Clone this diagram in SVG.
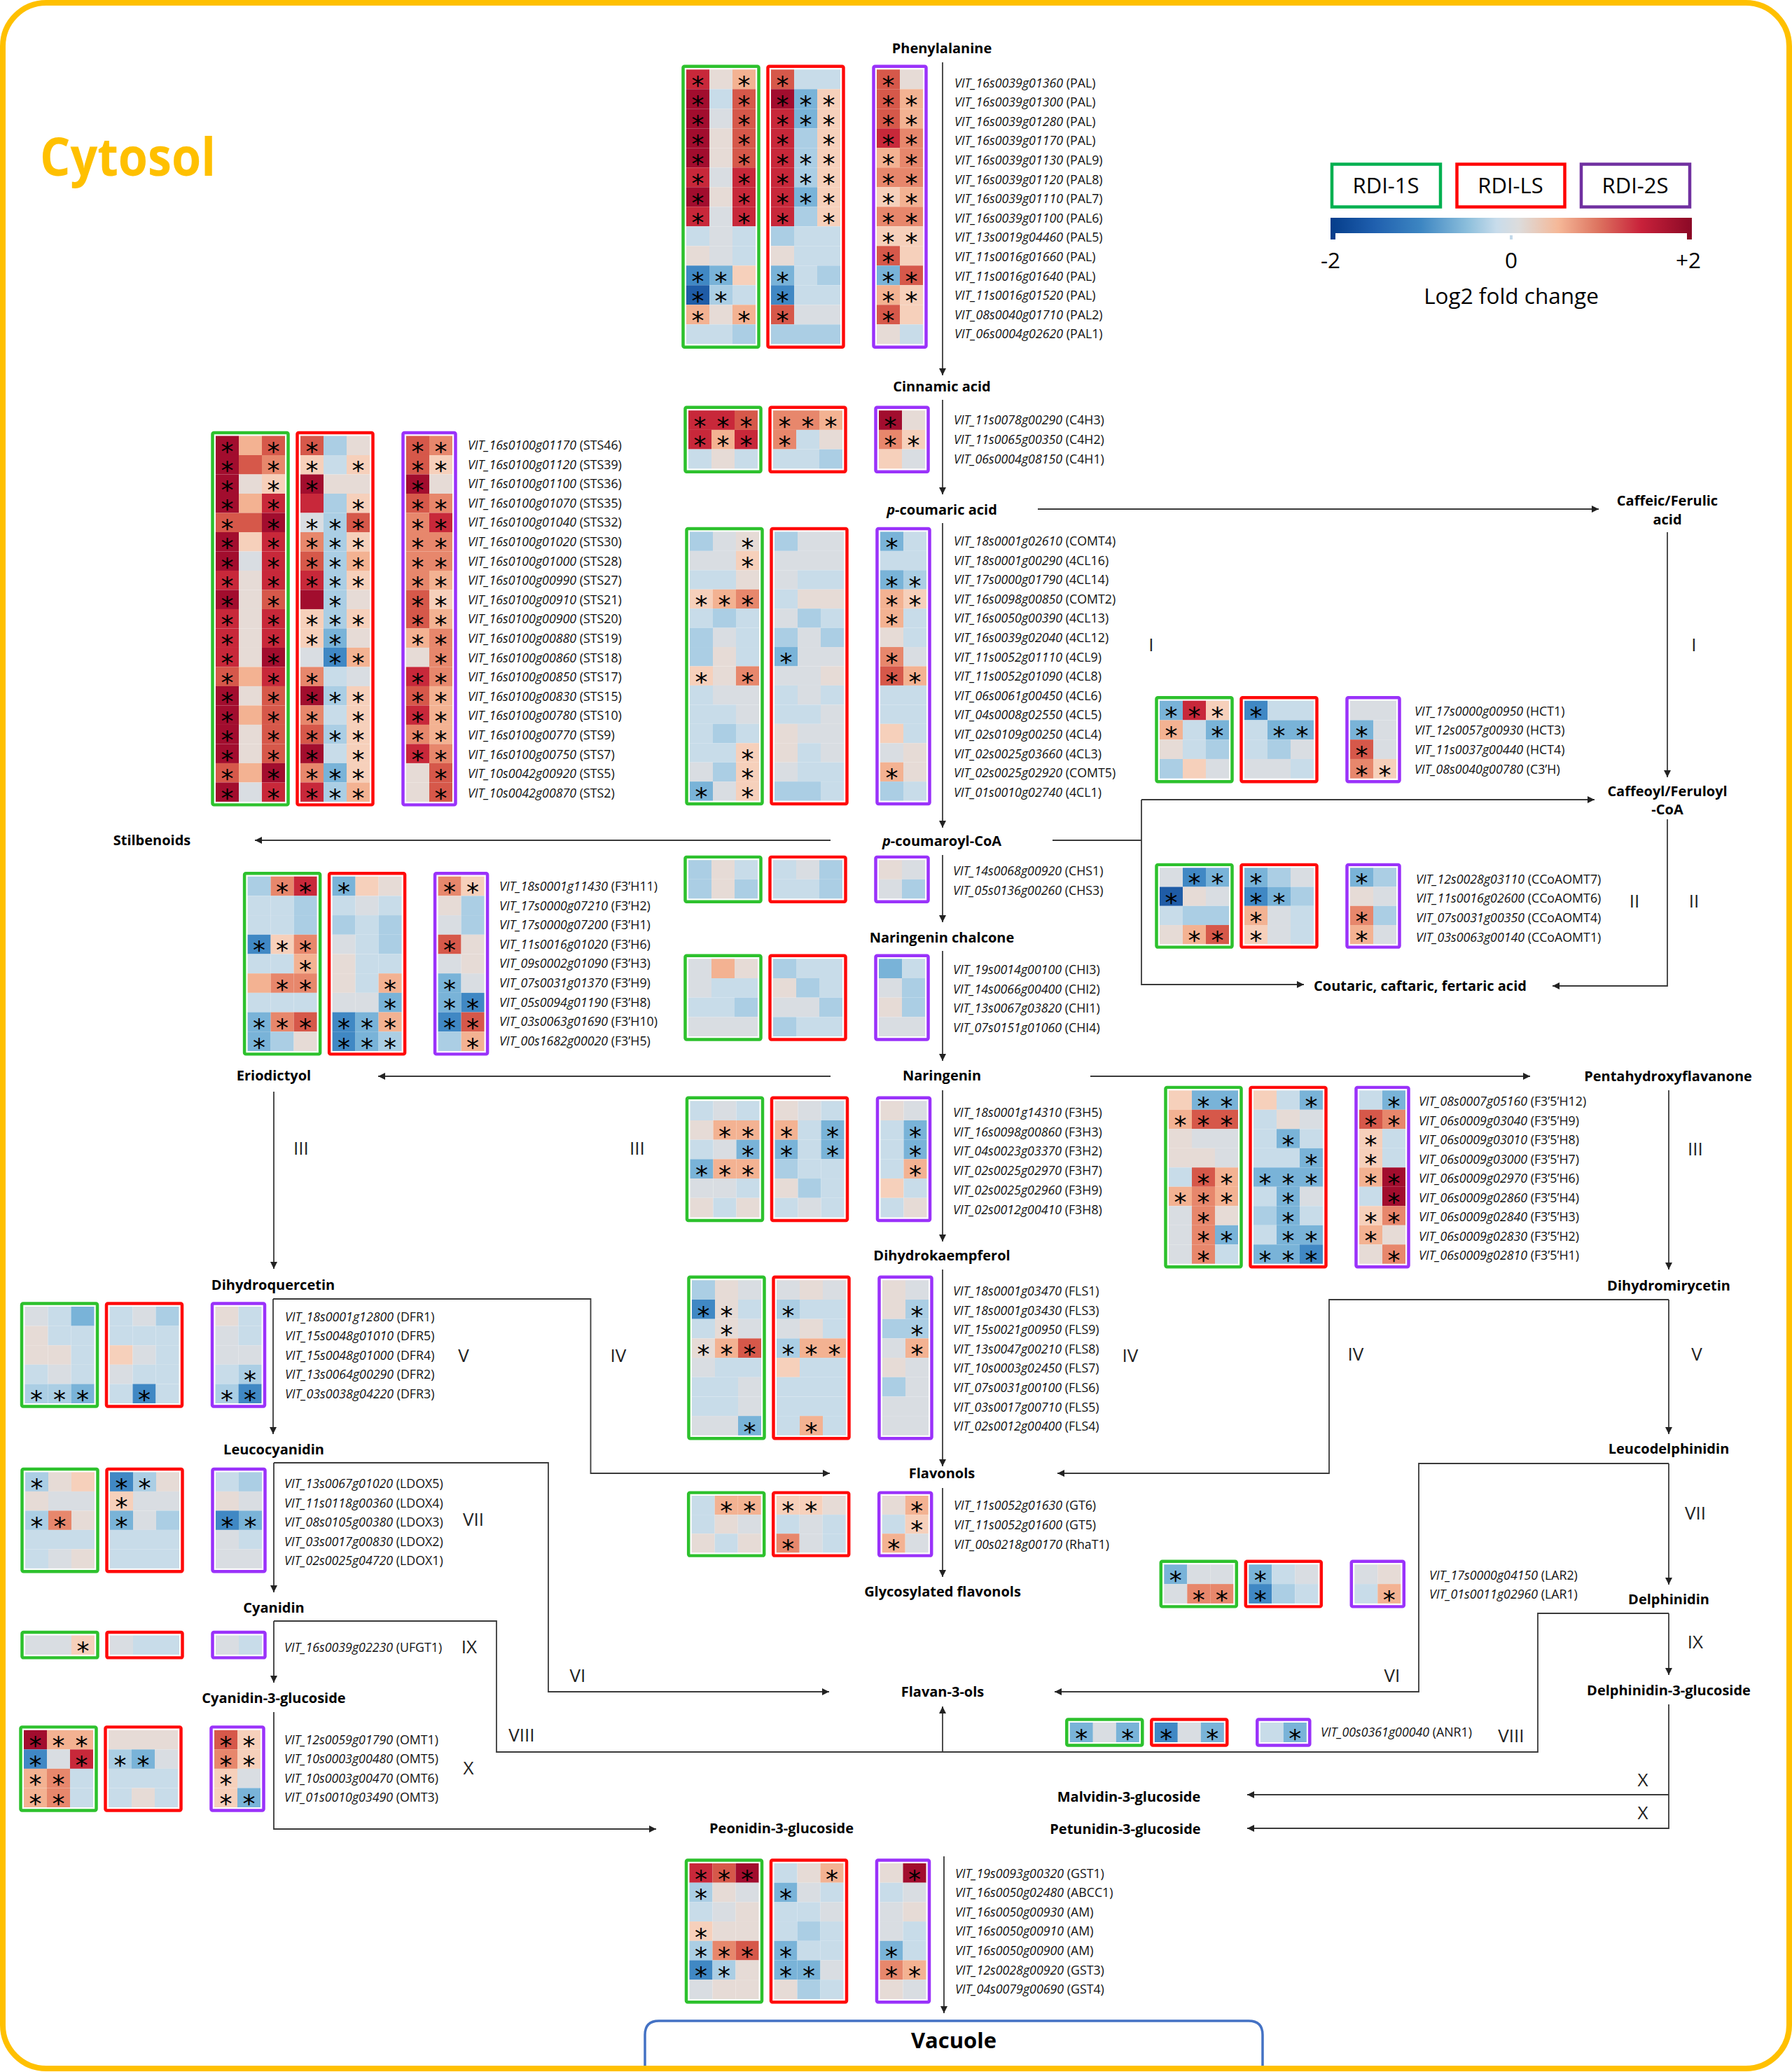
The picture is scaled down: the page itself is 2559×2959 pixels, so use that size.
<svg xmlns="http://www.w3.org/2000/svg" width="2559" height="2959" viewBox="0 0 2559 2959">
<defs>
<style>
.r4,.r3,.r2,.r1,.p2,.p1,.nn,.gg,.b0,.b1,.b2,.b3,.b4{width:33px;height:28px}
.r4{fill:#a20d2e}.r3{fill:#c8283a}.r2{fill:#d6584a}.r1{fill:#e7876c}.p2{fill:#f3b292}.p1{fill:#f6d0bb}.nn{fill:#e6dbd6}.gg{fill:#d9dde2}.b0{fill:#c8dce9}.b1{fill:#abcee4}.b2{fill:#79b3d8}.b3{fill:#4088c4}.b4{fill:#1f5ca6}
.gb,.rb,.pb{fill:none;stroke-width:4.5}
.gb{stroke:#2dc12d}.rb{stroke:#ff0a0a}.pb{stroke:#9a32fa}
.a{font-family:"DejaVu Sans",sans-serif;font-size:36px;text-anchor:middle;fill:#000}
.lb{font-family:"Open Sans",sans-serif;font-size:17.8px;font-style:italic;fill:#111}
.lb tspan{font-style:normal}
.cp{font-family:"Open Sans",sans-serif;font-size:20px;font-weight:bold;text-anchor:middle;fill:#000}
.rn{font-family:"Open Sans",sans-serif;font-size:26px;text-anchor:middle;fill:#222}
.cn path{fill:none;stroke:#3a3a3a;stroke-width:1.8}
.cn .ar{marker-end:url(#ah)}
.lg{font-family:"Open Sans",sans-serif;font-size:31.5px;text-anchor:middle;fill:#000}
</style>
<marker id="ah" viewBox="0 0 10 10" refX="10" refY="5" markerWidth="10" markerHeight="10" markerUnits="userSpaceOnUse" orient="auto"><path d="M0,0L10,5L0,10z" fill="#222"/></marker>
<linearGradient id="cbg" x1="0" x2="1" y1="0" y2="0">
<stop offset="0" stop-color="#053d8a"/><stop offset="0.12" stop-color="#1f5fae"/><stop offset="0.25" stop-color="#3d86c2"/><stop offset="0.38" stop-color="#8dbfdc"/><stop offset="0.46" stop-color="#c8dceb"/><stop offset="0.52" stop-color="#dcdcdc"/><stop offset="0.63" stop-color="#f5b898"/><stop offset="0.74" stop-color="#dd7460"/><stop offset="0.86" stop-color="#c8213a"/><stop offset="1" stop-color="#8b0926"/>
</linearGradient>
</defs>
<rect width="2559" height="2959" fill="#fff"/>
<g id="vacuole"><path d="M921 2950V2906Q921 2886 941 2886H1783Q1803 2886 1803 2906V2950" fill="none" stroke="#4472c4" stroke-width="3.5"/><text class="cp" x="1362" y="2925" style="font-size:31px">Vacuole</text></g>
<rect id="cytosol-border" x="4" y="4" width="2551" height="2950" rx="62" fill="none" stroke="#ffc000" stroke-width="8"/>
<text id="cytosol" x="57" y="251" textLength="251" lengthAdjust="spacingAndGlyphs" style="font-family:'Open Sans',sans-serif;font-weight:bold;font-size:76px;fill:#ffc000">Cytosol</text>

<g id="legend">
<rect x="1902" y="234.5" width="155" height="61" fill="none" stroke="#00b050" stroke-width="4.5"/>
<rect x="2080.5" y="234.5" width="154" height="61" fill="none" stroke="#ff0000" stroke-width="4.5"/>
<rect x="2258" y="234.5" width="155" height="61" fill="none" stroke="#7030a0" stroke-width="4.5"/>
<text class="lg" x="1979" y="276" style="font-size:31px">RDI-1S</text>
<text class="lg" x="2157" y="276" style="font-size:31px">RDI-LS</text>
<text class="lg" x="2335" y="276" style="font-size:31px">RDI-2S</text>
<rect x="1900" y="311" width="516" height="22" fill="url(#cbg)"/>
<rect x="1900" y="332" width="7" height="10" fill="#0a3f8c"/><rect x="2156" y="336" width="4" height="6" fill="#c3d9ea"/><rect x="2409" y="332" width="7" height="10" fill="#8b0926"/>
<text class="lg" x="1900" y="383">-2</text><text class="lg" x="2158" y="383">0</text><text class="lg" x="2411" y="383">+2</text>
<text class="lg" x="2158" y="434">Log2 fold change</text>
</g>

<g id="connectors" class="cn">
<path class="ar" d="M1346 89V536"/>
<path class="ar" d="M1346 571V706"/>
<path class="ar" d="M1346 747V1182"/>
<path class="ar" d="M1346 1221V1317"/>
<path class="ar" d="M1346 1358V1515"/>
<path class="ar" d="M1346 1557V1773"/>
<path class="ar" d="M1346 1813V2094"/>
<path class="ar" d="M1346 2125V2252"/>
<path class="ar" d="M1346 2502V2437"/>
<path class="ar" d="M1348 2651V2875"/>
<path class="ar" d="M1482 727H2283"/>
<path class="ar" d="M2381 760V1110"/>
<path class="ar" d="M1186 1200H364"/>
<path d="M1503 1200H1630"/>
<path class="ar" d="M1630 1142H2277"/>
<path class="ar" d="M1630 1142V1406H1862"/>
<path class="ar" d="M2381 1170V1408H2217"/>
<path class="ar" d="M1186 1537H540"/>
<path class="ar" d="M1557 1537H2185"/>
<path class="ar" d="M391 1559V1812"/>
<path class="ar" d="M2383 1557V1813"/>
<path class="ar" d="M390 1855V2048"/>
<path class="ar" d="M390 1855H843.5V2104H1185"/>
<path class="ar" d="M2383 1856V2048"/>
<path class="ar" d="M2383 1856H1898V2104H1510"/>
<path class="ar" d="M391 2089V2274"/>
<path class="ar" d="M391 2089H783V2416H1184"/>
<path class="ar" d="M2383 2090V2263"/>
<path class="ar" d="M2383 2090H2026V2416H1506"/>
<path class="ar" d="M391 2315V2403"/>
<path d="M391 2315H709V2502H2196V2304H2383"/>
<path class="ar" d="M2383 2304V2392"/>
<path class="ar" d="M391 2445V2612H937"/>
<path class="ar" d="M2383 2434V2611H1781"/>
<path class="ar" d="M2383 2563H1781"/>
</g>

<g id="compounds">
<g id="c-phe"><text class="cp" x="1345" y="76">Phenylalanine</text></g>
<g id="c-cin"><text class="cp" x="1345" y="559">Cinnamic acid</text></g>
<g id="c-pcou"><text class="cp" x="1345" y="735"><tspan font-style="italic">p</tspan>-coumaric acid</text></g>
<g id="c-caf"><text class="cp" x="2381" y="722">Caffeic/Ferulic</text><text class="cp" x="2381" y="749">acid</text></g>
<g id="c-stil"><text class="cp" x="217" y="1207">Stilbenoids</text></g>
<g id="c-pcoa"><text class="cp" x="1345" y="1208"><tspan font-style="italic">p</tspan>-coumaroyl-CoA</text></g>
<g id="c-cafcoa"><text class="cp" x="2381" y="1137">Caffeoyl/Feruloyl</text><text class="cp" x="2381" y="1163">-CoA</text></g>
<g id="c-nchal"><text class="cp" x="1345" y="1346">Naringenin chalcone</text></g>
<g id="c-cout"><text class="cp" x="2028" y="1415">Coutaric, caftaric, fertaric acid</text></g>
<g id="c-erio"><text class="cp" x="391" y="1543">Eriodictyol</text></g>
<g id="c-nar"><text class="cp" x="1345" y="1543">Naringenin</text></g>
<g id="c-penta"><text class="cp" x="2382" y="1544">Pentahydroxyflavanone</text></g>
<g id="c-dhk"><text class="cp" x="1345" y="1800">Dihydrokaempferol</text></g>
<g id="c-dhq"><text class="cp" x="390" y="1842">Dihydroquercetin</text></g>
<g id="c-dhm"><text class="cp" x="2383" y="1843">Dihydromirycetin</text></g>
<g id="c-lcy"><text class="cp" x="391" y="2077">Leucocyanidin</text></g>
<g id="c-fla"><text class="cp" x="1345" y="2111">Flavonols</text></g>
<g id="c-ldel"><text class="cp" x="2383" y="2076">Leucodelphinidin</text></g>
<g id="c-gfla"><text class="cp" x="1346" y="2280">Glycosylated flavonols</text></g>
<g id="c-cya"><text class="cp" x="391" y="2303">Cyanidin</text></g>
<g id="c-del"><text class="cp" x="2383" y="2291">Delphinidin</text></g>
<g id="c-c3g"><text class="cp" x="391" y="2432">Cyanidin-3-glucoside</text></g>
<g id="c-f3o"><text class="cp" x="1346" y="2423">Flavan-3-ols</text></g>
<g id="c-d3g"><text class="cp" x="2383" y="2421">Delphinidin-3-glucoside</text></g>
<g id="c-m3g"><text class="cp" x="1612" y="2573">Malvidin-3-glucoside</text></g>
<g id="c-p3g"><text class="cp" x="1116" y="2618">Peonidin-3-glucoside</text></g>
<g id="c-pt3g"><text class="cp" x="1607" y="2619">Petunidin-3-glucoside</text></g>
</g>

<g id="steps" class="rn">
<text x="1644" y="930">I</text><text x="2419" y="930">I</text>
<text x="2334" y="1296">II</text><text x="2419" y="1296">II</text>
<text x="430" y="1649">III</text><text x="910" y="1649">III</text><text x="2421" y="1650">III</text>
<text x="662" y="1945">V</text><text x="883" y="1945">IV</text><text x="1614" y="1945">IV</text><text x="1936" y="1943">IV</text><text x="2423" y="1943">V</text>
<text x="676" y="2179">VII</text><text x="2421" y="2170">VII</text>
<text x="670" y="2361">IX</text><text x="2421" y="2354">IX</text>
<text x="825" y="2402">VI</text><text x="1988" y="2402">VI</text>
<text x="745" y="2487">VIII</text><text x="2158" y="2488">VIII</text>
<text x="669" y="2534">X</text><text x="2346" y="2551">X</text><text x="2346" y="2598">X</text>
</g>

<g id="hm-pal">
<g transform="translate(980,99.3)">
<rect class="gb" x="-4.5" y="-4.5" width="108" height="401" rx="2"/><rect class="rb" x="116.5" y="-4.5" width="108" height="401" rx="2"/><rect class="pb" x="267.5" y="-4.5" width="75" height="401" rx="2"/>
<rect class="r3"/><rect class="nn" x="33"/><rect class="p2" x="66"/><rect class="r2" x="121"/><rect class="b0" x="154"/><rect class="b0" x="187"/><rect class="r2" x="272"/><rect class="nn" x="305"/>
<rect class="r4" y="28"/><rect class="b0" x="33" y="28"/><rect class="r2" x="66" y="28"/><rect class="r4" x="121" y="28"/><rect class="b2" x="154" y="28"/><rect class="p1" x="187" y="28"/><rect class="r2" x="272" y="28"/><rect class="p2" x="305" y="28"/>
<rect class="r4" y="56"/><rect class="gg" x="33" y="56"/><rect class="r2" x="66" y="56"/><rect class="r3" x="121" y="56"/><rect class="b2" x="154" y="56"/><rect class="p1" x="187" y="56"/><rect class="r2" x="272" y="56"/><rect class="p2" x="305" y="56"/>
<rect class="r4" y="84"/><rect class="nn" x="33" y="84"/><rect class="r2" x="66" y="84"/><rect class="r3" x="121" y="84"/><rect class="b1" x="154" y="84"/><rect class="p1" x="187" y="84"/><rect class="r3" x="272" y="84"/><rect class="r1" x="305" y="84"/>
<rect class="r4" y="112"/><rect class="nn" x="33" y="112"/><rect class="r2" x="66" y="112"/><rect class="r3" x="121" y="112"/><rect class="b1" x="154" y="112"/><rect class="p1" x="187" y="112"/><rect class="p2" x="272" y="112"/><rect class="r1" x="305" y="112"/>
<rect class="r3" y="140"/><rect class="gg" x="33" y="140"/><rect class="r3" x="66" y="140"/><rect class="r3" x="121" y="140"/><rect class="b1" x="154" y="140"/><rect class="p1" x="187" y="140"/><rect class="r1" x="272" y="140"/><rect class="r1" x="305" y="140"/>
<rect class="r4" y="168"/><rect class="nn" x="33" y="168"/><rect class="r3" x="66" y="168"/><rect class="r3" x="121" y="168"/><rect class="b2" x="154" y="168"/><rect class="p1" x="187" y="168"/><rect class="p1" x="272" y="168"/><rect class="p2" x="305" y="168"/>
<rect class="r3" y="196"/><rect class="gg" x="33" y="196"/><rect class="r3" x="66" y="196"/><rect class="r3" x="121" y="196"/><rect class="b1" x="154" y="196"/><rect class="p1" x="187" y="196"/><rect class="r1" x="272" y="196"/><rect class="r1" x="305" y="196"/>
<rect class="b0" y="224"/><rect class="gg" x="33" y="224"/><rect class="b0" x="66" y="224"/><rect class="b1" x="121" y="224"/><rect class="b0" x="154" y="224"/><rect class="b0" x="187" y="224"/><rect class="p1" x="272" y="224"/><rect class="p1" x="305" y="224"/>
<rect class="nn" y="252"/><rect class="gg" x="33" y="252"/><rect class="b0" x="66" y="252"/><rect class="nn" x="121" y="252"/><rect class="b0" x="154" y="252"/><rect class="b0" x="187" y="252"/><rect class="r2" x="272" y="252"/><rect class="p1" x="305" y="252"/>
<rect class="b3" y="280"/><rect class="b2" x="33" y="280"/><rect class="p1" x="66" y="280"/><rect class="b2" x="121" y="280"/><rect class="b0" x="154" y="280"/><rect class="b1" x="187" y="280"/><rect class="b2" x="272" y="280"/><rect class="r2" x="305" y="280"/>
<rect class="b4" y="308"/><rect class="b1" x="33" y="308"/><rect class="b0" x="66" y="308"/><rect class="b3" x="121" y="308"/><rect class="b0" x="154" y="308"/><rect class="b0" x="187" y="308"/><rect class="p2" x="272" y="308"/><rect class="p1" x="305" y="308"/>
<rect class="p2" y="336"/><rect class="nn" x="33" y="336"/><rect class="p2" x="66" y="336"/><rect class="r2" x="121" y="336"/><rect class="gg" x="154" y="336"/><rect class="gg" x="187" y="336"/><rect class="r2" x="272" y="336"/><rect class="p1" x="305" y="336"/>
<rect class="b0" y="364"/><rect class="b0" x="33" y="364"/><rect class="b1" x="66" y="364"/><rect class="b1" x="121" y="364"/><rect class="b1" x="154" y="364"/><rect class="b1" x="187" y="364"/><rect class="nn" x="272" y="364"/><rect class="b0" x="305" y="364"/>
<g class="a">
<text x="16.5 82.5 137.5 288.5" y="35">****</text>
<text x="16.5 82.5 137.5 170.5 203.5 288.5 321.5" y="63">*******</text>
<text x="16.5 82.5 137.5 170.5 203.5 288.5 321.5" y="91">*******</text>
<text x="16.5 82.5 137.5 203.5 288.5 321.5" y="119">******</text>
<text x="16.5 82.5 137.5 170.5 203.5 288.5 321.5" y="147">*******</text>
<text x="16.5 82.5 137.5 170.5 203.5 288.5 321.5" y="175">*******</text>
<text x="16.5 82.5 137.5 170.5 203.5 288.5 321.5" y="203">*******</text>
<text x="16.5 82.5 137.5 203.5 288.5 321.5" y="231">******</text>
<text x="288.5 321.5" y="259">**</text>
<text x="288.5" y="287">*</text>
<text x="16.5 49.5 137.5 288.5 321.5" y="315">*****</text>
<text x="16.5 49.5 137.5 288.5 321.5" y="343">*****</text>
<text x="16.5 82.5 137.5 288.5" y="371">****</text>
</g>
</g>
<g class="lb" transform="translate(1363,124.5)">
<text>VIT_16s0039g01360 <tspan>(PAL)</tspan></text>
<text y="27.6">VIT_16s0039g01300 <tspan>(PAL)</tspan></text>
<text y="55.2">VIT_16s0039g01280 <tspan>(PAL)</tspan></text>
<text y="82.8">VIT_16s0039g01170 <tspan>(PAL)</tspan></text>
<text y="110.4">VIT_16s0039g01130 <tspan>(PAL9)</tspan></text>
<text y="138">VIT_16s0039g01120 <tspan>(PAL8)</tspan></text>
<text y="165.6">VIT_16s0039g01110 <tspan>(PAL7)</tspan></text>
<text y="193.2">VIT_16s0039g01100 <tspan>(PAL6)</tspan></text>
<text y="220.8">VIT_13s0019g04460 <tspan>(PAL5)</tspan></text>
<text y="248.4">VIT_11s0016g01660 <tspan>(PAL)</tspan></text>
<text y="276">VIT_11s0016g01640 <tspan>(PAL)</tspan></text>
<text y="303.6">VIT_11s0016g01520 <tspan>(PAL)</tspan></text>
<text y="331.2">VIT_08s0040g01710 <tspan>(PAL2)</tspan></text>
<text y="358.8">VIT_06s0004g02620 <tspan>(PAL1)</tspan></text>
</g>
</g>

<g id="hm-sts">
<g transform="translate(308,622.5) scale(1,0.982)">
<rect class="gb" x="-4.5" y="-4.5" width="108" height="541" rx="2"/><rect class="rb" x="116.5" y="-4.5" width="108" height="541" rx="2"/><rect class="pb" x="267.5" y="-4.5" width="75" height="541" rx="2"/>
<rect class="r4"/><rect class="p2" x="33"/><rect class="r2" x="66"/><rect class="r2" x="121"/><rect class="b1" x="154"/><rect class="nn" x="187"/><rect class="r2" x="272"/><rect class="r1" x="305"/>
<rect class="r4" y="28"/><rect class="r2" x="33" y="28"/><rect class="r1" x="66" y="28"/><rect class="p1" x="121" y="28"/><rect class="b0" x="154" y="28"/><rect class="p1" x="187" y="28"/><rect class="r2" x="272" y="28"/><rect class="p1" x="305" y="28"/>
<rect class="r4" y="56"/><rect class="nn" x="33" y="56"/><rect class="p1" x="66" y="56"/><rect class="r4" x="121" y="56"/><rect class="nn" x="154" y="56"/><rect class="nn" x="187" y="56"/><rect class="r4" x="272" y="56"/><rect class="nn" x="305" y="56"/>
<rect class="r4" y="84"/><rect class="p2" x="33" y="84"/><rect class="r3" x="66" y="84"/><rect class="r3" x="121" y="84"/><rect class="b1" x="154" y="84"/><rect class="p1" x="187" y="84"/><rect class="r2" x="272" y="84"/><rect class="r1" x="305" y="84"/>
<rect class="r2" y="112"/><rect class="r2" x="33" y="112"/><rect class="r4" x="66" y="112"/><rect class="gg" x="121" y="112"/><rect class="b1" x="154" y="112"/><rect class="r2" x="187" y="112"/><rect class="r1" x="272" y="112"/><rect class="r3" x="305" y="112"/>
<rect class="r4" y="140"/><rect class="p1" x="33" y="140"/><rect class="r3" x="66" y="140"/><rect class="r1" x="121" y="140"/><rect class="b1" x="154" y="140"/><rect class="p1" x="187" y="140"/><rect class="r1" x="272" y="140"/><rect class="r1" x="305" y="140"/>
<rect class="r4" y="168"/><rect class="gg" x="33" y="168"/><rect class="r3" x="66" y="168"/><rect class="r2" x="121" y="168"/><rect class="b1" x="154" y="168"/><rect class="p2" x="187" y="168"/><rect class="r1" x="272" y="168"/><rect class="r1" x="305" y="168"/>
<rect class="r3" y="196"/><rect class="nn" x="33" y="196"/><rect class="r3" x="66" y="196"/><rect class="r3" x="121" y="196"/><rect class="b1" x="154" y="196"/><rect class="p1" x="187" y="196"/><rect class="r1" x="272" y="196"/><rect class="p2" x="305" y="196"/>
<rect class="r4" y="224"/><rect class="nn" x="33" y="224"/><rect class="r2" x="66" y="224"/><rect class="r4" x="121" y="224"/><rect class="b1" x="154" y="224"/><rect class="nn" x="187" y="224"/><rect class="r2" x="272" y="224"/><rect class="p1" x="305" y="224"/>
<rect class="r3" y="252"/><rect class="nn" x="33" y="252"/><rect class="r3" x="66" y="252"/><rect class="p1" x="121" y="252"/><rect class="b1" x="154" y="252"/><rect class="p1" x="187" y="252"/><rect class="r2" x="272" y="252"/><rect class="p2" x="305" y="252"/>
<rect class="r3" y="280"/><rect class="nn" x="33" y="280"/><rect class="r3" x="66" y="280"/><rect class="p1" x="121" y="280"/><rect class="b2" x="154" y="280"/><rect class="nn" x="187" y="280"/><rect class="p2" x="272" y="280"/><rect class="r1" x="305" y="280"/>
<rect class="r3" y="308"/><rect class="nn" x="33" y="308"/><rect class="r4" x="66" y="308"/><rect class="gg" x="121" y="308"/><rect class="b3" x="154" y="308"/><rect class="p2" x="187" y="308"/><rect class="nn" x="272" y="308"/><rect class="r1" x="305" y="308"/>
<rect class="r2" y="336"/><rect class="p2" x="33" y="336"/><rect class="r3" x="66" y="336"/><rect class="r1" x="121" y="336"/><rect class="b0" x="154" y="336"/><rect class="gg" x="187" y="336"/><rect class="r3" x="272" y="336"/><rect class="r1" x="305" y="336"/>
<rect class="r4" y="364"/><rect class="nn" x="33" y="364"/><rect class="r2" x="66" y="364"/><rect class="r4" x="121" y="364"/><rect class="b1" x="154" y="364"/><rect class="p1" x="187" y="364"/><rect class="r2" x="272" y="364"/><rect class="p2" x="305" y="364"/>
<rect class="r4" y="392"/><rect class="p2" x="33" y="392"/><rect class="r2" x="66" y="392"/><rect class="r1" x="121" y="392"/><rect class="b0" x="154" y="392"/><rect class="p1" x="187" y="392"/><rect class="r3" x="272" y="392"/><rect class="p2" x="305" y="392"/>
<rect class="r4" y="420"/><rect class="nn" x="33" y="420"/><rect class="r2" x="66" y="420"/><rect class="r2" x="121" y="420"/><rect class="b1" x="154" y="420"/><rect class="p1" x="187" y="420"/><rect class="r1" x="272" y="420"/><rect class="p2" x="305" y="420"/>
<rect class="r4" y="448"/><rect class="nn" x="33" y="448"/><rect class="r2" x="66" y="448"/><rect class="r4" x="121" y="448"/><rect class="b0" x="154" y="448"/><rect class="p1" x="187" y="448"/><rect class="r3" x="272" y="448"/><rect class="r1" x="305" y="448"/>
<rect class="r2" y="476"/><rect class="p2" x="33" y="476"/><rect class="r4" x="66" y="476"/><rect class="r1" x="121" y="476"/><rect class="b2" x="154" y="476"/><rect class="p1" x="187" y="476"/><rect class="nn" x="272" y="476"/><rect class="r2" x="305" y="476"/>
<rect class="r4" y="504"/><rect class="gg" x="33" y="504"/><rect class="r3" x="66" y="504"/><rect class="r3" x="121" y="504"/><rect class="b1" x="154" y="504"/><rect class="p2" x="187" y="504"/><rect class="nn" x="272" y="504"/><rect class="r2" x="305" y="504"/>
<g class="a">
<text x="16.5 82.5 137.5 288.5 321.5" y="35">*****</text>
<text x="16.5 82.5 137.5 203.5 288.5 321.5" y="63">******</text>
<text x="16.5 82.5 137.5 288.5" y="91">****</text>
<text x="16.5 82.5 203.5 288.5 321.5" y="119">*****</text>
<text x="16.5 82.5 137.5 170.5 203.5 288.5 321.5" y="147">*******</text>
<text x="16.5 82.5 137.5 170.5 203.5 288.5 321.5" y="175">*******</text>
<text x="16.5 82.5 137.5 170.5 203.5 288.5 321.5" y="203">*******</text>
<text x="16.5 82.5 137.5 170.5 203.5 288.5 321.5" y="231">*******</text>
<text x="16.5 82.5 170.5 288.5 321.5" y="259">*****</text>
<text x="16.5 82.5 137.5 170.5 203.5 288.5 321.5" y="287">*******</text>
<text x="16.5 82.5 137.5 170.5 288.5 321.5" y="315">******</text>
<text x="16.5 82.5 170.5 203.5 321.5" y="343">*****</text>
<text x="16.5 82.5 137.5 288.5 321.5" y="371">*****</text>
<text x="16.5 82.5 137.5 170.5 203.5 288.5 321.5" y="399">*******</text>
<text x="16.5 82.5 137.5 203.5 288.5 321.5" y="427">******</text>
<text x="16.5 82.5 137.5 170.5 203.5 288.5 321.5" y="455">*******</text>
<text x="16.5 82.5 137.5 203.5 288.5 321.5" y="483">******</text>
<text x="16.5 82.5 137.5 170.5 203.5 321.5" y="511">******</text>
<text x="16.5 82.5 137.5 170.5 203.5 321.5" y="539">******</text>
</g>
</g>
<g class="lb" transform="translate(668,642)">
<text>VIT_16s0100g01170 <tspan>(STS46)</tspan></text>
<text y="27.6">VIT_16s0100g01120 <tspan>(STS39)</tspan></text>
<text y="55.2">VIT_16s0100g01100 <tspan>(STS36)</tspan></text>
<text y="82.8">VIT_16s0100g01070 <tspan>(STS35)</tspan></text>
<text y="110.4">VIT_16s0100g01040 <tspan>(STS32)</tspan></text>
<text y="138">VIT_16s0100g01020 <tspan>(STS30)</tspan></text>
<text y="165.6">VIT_16s0100g01000 <tspan>(STS28)</tspan></text>
<text y="193.2">VIT_16s0100g00990 <tspan>(STS27)</tspan></text>
<text y="220.8">VIT_16s0100g00910 <tspan>(STS21)</tspan></text>
<text y="248.4">VIT_16s0100g00900 <tspan>(STS20)</tspan></text>
<text y="276">VIT_16s0100g00880 <tspan>(STS19)</tspan></text>
<text y="303.6">VIT_16s0100g00860 <tspan>(STS18)</tspan></text>
<text y="331.2">VIT_16s0100g00850 <tspan>(STS17)</tspan></text>
<text y="358.8">VIT_16s0100g00830 <tspan>(STS15)</tspan></text>
<text y="386.4">VIT_16s0100g00780 <tspan>(STS10)</tspan></text>
<text y="414">VIT_16s0100g00770 <tspan>(STS9)</tspan></text>
<text y="441.6">VIT_16s0100g00750 <tspan>(STS7)</tspan></text>
<text y="469.2">VIT_10s0042g00920 <tspan>(STS5)</tspan></text>
<text y="496.8">VIT_10s0042g00870 <tspan>(STS2)</tspan></text>
</g>
</g>

<g id="hm-c4h">
<g transform="translate(983,586.2) scale(1,0.989)">
<rect class="gb" x="-4.5" y="-4.5" width="108" height="93" rx="2"/><rect class="rb" x="116.5" y="-4.5" width="108" height="93" rx="2"/><rect class="pb" x="267.5" y="-4.5" width="75" height="93" rx="2"/>
<rect class="r3"/><rect class="r3" x="33"/><rect class="r2" x="66"/><rect class="r1" x="121"/><rect class="r1" x="154"/><rect class="p2" x="187"/><rect class="r4" x="272"/><rect class="nn" x="305"/>
<rect class="r3" y="28"/><rect class="p2" x="33" y="28"/><rect class="r3" x="66" y="28"/><rect class="r1" x="121" y="28"/><rect class="b0" x="154" y="28"/><rect class="nn" x="187" y="28"/><rect class="r1" x="272" y="28"/><rect class="p1" x="305" y="28"/>
<rect class="b0" y="56"/><rect class="nn" x="33" y="56"/><rect class="b0" x="66" y="56"/><rect class="b0" x="121" y="56"/><rect class="b0" x="154" y="56"/><rect class="b1" x="187" y="56"/><rect class="p1" x="272" y="56"/><rect class="gg" x="305" y="56"/>
<g class="a">
<text x="16.5 49.5 82.5 137.5 170.5 203.5 288.5" y="35">*******</text>
<text x="16.5 49.5 82.5 137.5 288.5 321.5" y="63">******</text>
</g>
</g>
<g class="lb" transform="translate(1362,606)">
<text>VIT_11s0078g00290 <tspan>(C4H3)</tspan></text>
<text y="28">VIT_11s0065g00350 <tspan>(C4H2)</tspan></text>
<text y="56">VIT_06s0004g08150 <tspan>(C4H1)</tspan></text>
</g>
</g>

<g id="hm-comt">
<g transform="translate(985,759.4) scale(1,0.98)">
<rect class="gb" x="-4.5" y="-4.5" width="108" height="401" rx="2"/><rect class="rb" x="116.5" y="-4.5" width="108" height="401" rx="2"/><rect class="pb" x="267.5" y="-4.5" width="75" height="401" rx="2"/>
<rect class="b1"/><rect class="gg" x="33"/><rect class="nn" x="66"/><rect class="b1" x="121"/><rect class="gg" x="154"/><rect class="gg" x="187"/><rect class="b2" x="272"/><rect class="b0" x="305"/>
<rect class="gg" y="28"/><rect class="gg" x="33" y="28"/><rect class="p1" x="66" y="28"/><rect class="gg" x="121" y="28"/><rect class="gg" x="154" y="28"/><rect class="gg" x="187" y="28"/><rect class="b0" x="272" y="28"/><rect class="b0" x="305" y="28"/>
<rect class="b0" y="56"/><rect class="b0" x="33" y="56"/><rect class="nn" x="66" y="56"/><rect class="gg" x="121" y="56"/><rect class="b0" x="154" y="56"/><rect class="b0" x="187" y="56"/><rect class="b2" x="272" y="56"/><rect class="b1" x="305" y="56"/>
<rect class="p1" y="84"/><rect class="p2" x="33" y="84"/><rect class="r1" x="66" y="84"/><rect class="b0" x="121" y="84"/><rect class="nn" x="154" y="84"/><rect class="nn" x="187" y="84"/><rect class="p2" x="272" y="84"/><rect class="p1" x="305" y="84"/>
<rect class="b0" y="112"/><rect class="b1" x="33" y="112"/><rect class="b0" x="66" y="112"/><rect class="gg" x="121" y="112"/><rect class="b1" x="154" y="112"/><rect class="b0" x="187" y="112"/><rect class="p2" x="272" y="112"/><rect class="b0" x="305" y="112"/>
<rect class="b1" y="140"/><rect class="gg" x="33" y="140"/><rect class="b0" x="66" y="140"/><rect class="b1" x="121" y="140"/><rect class="gg" x="154" y="140"/><rect class="b1" x="187" y="140"/><rect class="nn" x="272" y="140"/><rect class="b0" x="305" y="140"/>
<rect class="b1" y="168"/><rect class="nn" x="33" y="168"/><rect class="b0" x="66" y="168"/><rect class="b2" x="121" y="168"/><rect class="gg" x="154" y="168"/><rect class="gg" x="187" y="168"/><rect class="r1" x="272" y="168"/><rect class="gg" x="305" y="168"/>
<rect class="p1" y="196"/><rect class="nn" x="33" y="196"/><rect class="r1" x="66" y="196"/><rect class="gg" x="121" y="196"/><rect class="gg" x="154" y="196"/><rect class="nn" x="187" y="196"/><rect class="r2" x="272" y="196"/><rect class="p2" x="305" y="196"/>
<rect class="b0" y="224"/><rect class="gg" x="33" y="224"/><rect class="gg" x="66" y="224"/><rect class="b0" x="121" y="224"/><rect class="gg" x="154" y="224"/><rect class="b0" x="187" y="224"/><rect class="b0" x="272" y="224"/><rect class="b0" x="305" y="224"/>
<rect class="b0" y="252"/><rect class="b0" x="33" y="252"/><rect class="gg" x="66" y="252"/><rect class="b0" x="121" y="252"/><rect class="b0" x="154" y="252"/><rect class="gg" x="187" y="252"/><rect class="b0" x="272" y="252"/><rect class="b0" x="305" y="252"/>
<rect class="b0" y="280"/><rect class="b1" x="33" y="280"/><rect class="b0" x="66" y="280"/><rect class="nn" x="121" y="280"/><rect class="gg" x="154" y="280"/><rect class="gg" x="187" y="280"/><rect class="p1" x="272" y="280"/><rect class="b0" x="305" y="280"/>
<rect class="b0" y="308"/><rect class="b0" x="33" y="308"/><rect class="p1" x="66" y="308"/><rect class="nn" x="121" y="308"/><rect class="b0" x="154" y="308"/><rect class="gg" x="187" y="308"/><rect class="gg" x="272" y="308"/><rect class="nn" x="305" y="308"/>
<rect class="gg" y="336"/><rect class="b1" x="33" y="336"/><rect class="p1" x="66" y="336"/><rect class="gg" x="121" y="336"/><rect class="b0" x="154" y="336"/><rect class="b0" x="187" y="336"/><rect class="p2" x="272" y="336"/><rect class="nn" x="305" y="336"/>
<rect class="b2" y="364"/><rect class="gg" x="33" y="364"/><rect class="p1" x="66" y="364"/><rect class="b1" x="121" y="364"/><rect class="b1" x="154" y="364"/><rect class="b0" x="187" y="364"/><rect class="b1" x="272" y="364"/><rect class="b0" x="305" y="364"/>
<g class="a">
<text x="82.5 288.5" y="35">**</text>
<text x="82.5" y="63">*</text>
<text x="288.5 321.5" y="91">**</text>
<text x="16.5 49.5 82.5 288.5 321.5" y="119">*****</text>
<text x="288.5" y="147">*</text>
<text x="137.5 288.5" y="203">**</text>
<text x="16.5 82.5 288.5 321.5" y="231">****</text>
<text x="82.5" y="343">*</text>
<text x="82.5 288.5" y="371">**</text>
<text x="16.5 82.5" y="399">**</text>
</g>
</g>
<g class="lb" transform="translate(1362,779)">
<text>VIT_18s0001g02610 <tspan>(COMT4)</tspan></text>
<text y="27.6">VIT_18s0001g00290 <tspan>(4CL16)</tspan></text>
<text y="55.2">VIT_17s0000g01790 <tspan>(4CL14)</tspan></text>
<text y="82.8">VIT_16s0098g00850 <tspan>(COMT2)</tspan></text>
<text y="110.4">VIT_16s0050g00390 <tspan>(4CL13)</tspan></text>
<text y="138">VIT_16s0039g02040 <tspan>(4CL12)</tspan></text>
<text y="165.6">VIT_11s0052g01110 <tspan>(4CL9)</tspan></text>
<text y="193.2">VIT_11s0052g01090 <tspan>(4CL8)</tspan></text>
<text y="220.8">VIT_06s0061g00450 <tspan>(4CL6)</tspan></text>
<text y="248.4">VIT_04s0008g02550 <tspan>(4CL5)</tspan></text>
<text y="276">VIT_02s0109g00250 <tspan>(4CL4)</tspan></text>
<text y="303.6">VIT_02s0025g03660 <tspan>(4CL3)</tspan></text>
<text y="331.2">VIT_02s0025g02920 <tspan>(COMT5)</tspan></text>
<text y="358.8">VIT_01s0010g02740 <tspan>(4CL1)</tspan></text>
</g>
</g>

<g id="hm-hct">
<g transform="translate(1656,1000.7) scale(1,0.991)">
<rect class="gb" x="-4.5" y="-4.5" width="108" height="121" rx="2"/><rect class="rb" x="116.5" y="-4.5" width="108" height="121" rx="2"/><rect class="pb" x="267.5" y="-4.5" width="75" height="121" rx="2"/>
<rect class="b2"/><rect class="r3" x="33"/><rect class="p1" x="66"/><rect class="b3" x="121"/><rect class="b0" x="154"/><rect class="b0" x="187"/><rect class="gg" x="272"/><rect class="gg" x="305"/>
<rect class="p2" y="28"/><rect class="b0" x="33" y="28"/><rect class="b2" x="66" y="28"/><rect class="b0" x="121" y="28"/><rect class="b2" x="154" y="28"/><rect class="b2" x="187" y="28"/><rect class="b2" x="272" y="28"/><rect class="gg" x="305" y="28"/>
<rect class="nn" y="56"/><rect class="b0" x="33" y="56"/><rect class="b1" x="66" y="56"/><rect class="b0" x="121" y="56"/><rect class="b1" x="154" y="56"/><rect class="gg" x="187" y="56"/><rect class="r2" x="272" y="56"/><rect class="gg" x="305" y="56"/>
<rect class="b1" y="84"/><rect class="p1" x="33" y="84"/><rect class="gg" x="66" y="84"/><rect class="gg" x="121" y="84"/><rect class="gg" x="154" y="84"/><rect class="b0" x="187" y="84"/><rect class="r1" x="272" y="84"/><rect class="p1" x="305" y="84"/>
<g class="a">
<text x="16.5 49.5 82.5 137.5" y="35">****</text>
<text x="16.5 82.5 170.5 203.5 288.5" y="63">*****</text>
<text x="288.5" y="91">*</text>
<text x="288.5 321.5" y="119">**</text>
</g>
</g>
<g class="lb" transform="translate(2020,1021.5)">
<text>VIT_17s0000g00950 <tspan>(HCT1)</tspan></text>
<text y="27.7">VIT_12s0057g00930 <tspan>(HCT3)</tspan></text>
<text y="55.4">VIT_11s0037g00440 <tspan>(HCT4)</tspan></text>
<text y="83.1">VIT_08s0040g00780 <tspan>(C3’H)</tspan></text>
</g>
</g>

<g id="hm-ccoaomt">
<g transform="translate(1656,1239.3) scale(1,0.973)">
<rect class="gb" x="-4.5" y="-4.5" width="108" height="121" rx="2"/><rect class="rb" x="116.5" y="-4.5" width="108" height="121" rx="2"/><rect class="pb" x="267.5" y="-4.5" width="75" height="121" rx="2"/>
<rect class="gg"/><rect class="b3" x="33"/><rect class="b2" x="66"/><rect class="b2" x="121"/><rect class="b1" x="154"/><rect class="gg" x="187"/><rect class="b2" x="272"/><rect class="b1" x="305"/>
<rect class="b4" y="28"/><rect class="nn" x="33" y="28"/><rect class="gg" x="66" y="28"/><rect class="b3" x="121" y="28"/><rect class="b2" x="154" y="28"/><rect class="b1" x="187" y="28"/><rect class="nn" x="272" y="28"/><rect class="gg" x="305" y="28"/>
<rect class="b0" y="56"/><rect class="b1" x="33" y="56"/><rect class="b1" x="66" y="56"/><rect class="p2" x="121" y="56"/><rect class="gg" x="154" y="56"/><rect class="b0" x="187" y="56"/><rect class="r1" x="272" y="56"/><rect class="b1" x="305" y="56"/>
<rect class="nn" y="84"/><rect class="p2" x="33" y="84"/><rect class="r2" x="66" y="84"/><rect class="p1" x="121" y="84"/><rect class="gg" x="154" y="84"/><rect class="b0" x="187" y="84"/><rect class="p2" x="272" y="84"/><rect class="gg" x="305" y="84"/>
<g class="a">
<text x="49.5 82.5 137.5 288.5" y="35">****</text>
<text x="16.5 137.5 170.5" y="63">***</text>
<text x="137.5 288.5" y="91">**</text>
<text x="49.5 82.5 137.5 288.5" y="119">****</text>
</g>
</g>
<g class="lb" transform="translate(2022,1261.5)">
<text>VIT_12s0028g03110 <tspan>(CCoAOMT7)</tspan></text>
<text y="27.7">VIT_11s0016g02600 <tspan>(CCoAOMT6)</tspan></text>
<text y="55.4">VIT_07s0031g00350 <tspan>(CCoAOMT4)</tspan></text>
<text y="83.1">VIT_03s0063g00140 <tspan>(CCoAOMT1)</tspan></text>
</g>
</g>

<g id="hm-f3h-prime">
<g transform="translate(353.6,1251.7) scale(1,0.989)">
<rect class="gb" x="-4.5" y="-4.5" width="108" height="261" rx="2"/><rect class="rb" x="116.5" y="-4.5" width="108" height="261" rx="2"/><rect class="pb" x="267.5" y="-4.5" width="75" height="261" rx="2"/>
<rect class="b1"/><rect class="r1" x="33"/><rect class="r3" x="66"/><rect class="b2" x="121"/><rect class="p1" x="154"/><rect class="nn" x="187"/><rect class="r1" x="272"/><rect class="p1" x="305"/>
<rect class="b0" y="28"/><rect class="b0" x="33" y="28"/><rect class="b1" x="66" y="28"/><rect class="b0" x="121" y="28"/><rect class="gg" x="154" y="28"/><rect class="b0" x="187" y="28"/><rect class="nn" x="272" y="28"/><rect class="b1" x="305" y="28"/>
<rect class="b0" y="56"/><rect class="b0" x="33" y="56"/><rect class="b1" x="66" y="56"/><rect class="b1" x="121" y="56"/><rect class="b0" x="154" y="56"/><rect class="b1" x="187" y="56"/><rect class="gg" x="272" y="56"/><rect class="b1" x="305" y="56"/>
<rect class="b3" y="84"/><rect class="p1" x="33" y="84"/><rect class="r1" x="66" y="84"/><rect class="gg" x="121" y="84"/><rect class="b0" x="154" y="84"/><rect class="b1" x="187" y="84"/><rect class="r2" x="272" y="84"/><rect class="nn" x="305" y="84"/>
<rect class="b0" y="112"/><rect class="b0" x="33" y="112"/><rect class="p2" x="66" y="112"/><rect class="nn" x="121" y="112"/><rect class="b0" x="154" y="112"/><rect class="b0" x="187" y="112"/><rect class="gg" x="272" y="112"/><rect class="nn" x="305" y="112"/>
<rect class="p2" y="140"/><rect class="r1" x="33" y="140"/><rect class="r1" x="66" y="140"/><rect class="nn" x="121" y="140"/><rect class="b0" x="154" y="140"/><rect class="p2" x="187" y="140"/><rect class="b2" x="272" y="140"/><rect class="gg" x="305" y="140"/>
<rect class="b0" y="168"/><rect class="b0" x="33" y="168"/><rect class="b0" x="66" y="168"/><rect class="gg" x="121" y="168"/><rect class="gg" x="154" y="168"/><rect class="b2" x="187" y="168"/><rect class="b2" x="272" y="168"/><rect class="b3" x="305" y="168"/>
<rect class="b2" y="196"/><rect class="r1" x="33" y="196"/><rect class="r2" x="66" y="196"/><rect class="b3" x="121" y="196"/><rect class="b2" x="154" y="196"/><rect class="p2" x="187" y="196"/><rect class="b3" x="272" y="196"/><rect class="r2" x="305" y="196"/>
<rect class="b2" y="224"/><rect class="b1" x="33" y="224"/><rect class="nn" x="66" y="224"/><rect class="b3" x="121" y="224"/><rect class="b2" x="154" y="224"/><rect class="b1" x="187" y="224"/><rect class="b1" x="272" y="224"/><rect class="p2" x="305" y="224"/>
<g class="a">
<text x="49.5 82.5 137.5 288.5 321.5" y="35">*****</text>
<text x="16.5 49.5 82.5 288.5" y="119">****</text>
<text x="82.5" y="147">*</text>
<text x="49.5 82.5 203.5 288.5" y="175">****</text>
<text x="203.5 288.5 321.5" y="203">***</text>
<text x="16.5 49.5 82.5 137.5 170.5 203.5 288.5 321.5" y="231">********</text>
<text x="16.5 137.5 170.5 203.5 321.5" y="259">*****</text>
</g>
</g>
<g class="lb" transform="translate(713,1272)">
<text>VIT_18s0001g11430 <tspan>(F3’H11)</tspan></text>
<text y="27.6">VIT_17s0000g07210 <tspan>(F3’H2)</tspan></text>
<text y="55.2">VIT_17s0000g07200 <tspan>(F3’H1)</tspan></text>
<text y="82.8">VIT_11s0016g01020 <tspan>(F3’H6)</tspan></text>
<text y="110.4">VIT_09s0002g01090 <tspan>(F3’H3)</tspan></text>
<text y="138">VIT_07s0031g01370 <tspan>(F3’H9)</tspan></text>
<text y="165.6">VIT_05s0094g01190 <tspan>(F3’H8)</tspan></text>
<text y="193.2">VIT_03s0063g01690 <tspan>(F3’H10)</tspan></text>
<text y="220.8">VIT_00s1682g00020 <tspan>(F3’H5)</tspan></text>
</g>
</g>

<g id="hm-chs">
<g transform="translate(983,1228.3) scale(1,0.982)">
<rect class="gb" x="-4.5" y="-4.5" width="108" height="65" rx="2"/><rect class="rb" x="116.5" y="-4.5" width="108" height="65" rx="2"/><rect class="pb" x="267.5" y="-4.5" width="75" height="65" rx="2"/>
<rect class="b1"/><rect class="nn" x="33"/><rect class="b0" x="66"/><rect class="b0" x="121"/><rect class="gg" x="154"/><rect class="b1" x="187"/><rect class="nn" x="272"/><rect class="gg" x="305"/>
<rect class="b1" y="28"/><rect class="nn" x="33" y="28"/><rect class="b1" x="66" y="28"/><rect class="b0" x="121" y="28"/><rect class="b0" x="154" y="28"/><rect class="b1" x="187" y="28"/><rect class="gg" x="272" y="28"/><rect class="b1" x="305" y="28"/>
</g>
<g class="lb" transform="translate(1361,1250)">
<text>VIT_14s0068g00920 <tspan>(CHS1)</tspan></text>
<text y="27.7">VIT_05s0136g00260 <tspan>(CHS3)</tspan></text>
</g>
</g>

<g id="hm-chi">
<g transform="translate(983,1369.3) scale(1,0.989)">
<rect class="gb" x="-4.5" y="-4.5" width="108" height="121" rx="2"/><rect class="rb" x="116.5" y="-4.5" width="108" height="121" rx="2"/><rect class="pb" x="267.5" y="-4.5" width="75" height="121" rx="2"/>
<rect class="gg"/><rect class="p2" x="33"/><rect class="nn" x="66"/><rect class="b1" x="121"/><rect class="b0" x="154"/><rect class="b0" x="187"/><rect class="b2" x="272"/><rect class="b0" x="305"/>
<rect class="gg" y="28"/><rect class="b0" x="33" y="28"/><rect class="b0" x="66" y="28"/><rect class="nn" x="121" y="28"/><rect class="b1" x="154" y="28"/><rect class="b0" x="187" y="28"/><rect class="gg" x="272" y="28"/><rect class="b1" x="305" y="28"/>
<rect class="b0" y="56"/><rect class="b0" x="33" y="56"/><rect class="b1" x="66" y="56"/><rect class="gg" x="121" y="56"/><rect class="gg" x="154" y="56"/><rect class="b1" x="187" y="56"/><rect class="nn" x="272" y="56"/><rect class="b1" x="305" y="56"/>
<rect class="gg" y="84"/><rect class="gg" x="33" y="84"/><rect class="gg" x="66" y="84"/><rect class="b1" x="121" y="84"/><rect class="b0" x="154" y="84"/><rect class="b0" x="187" y="84"/><rect class="gg" x="272" y="84"/><rect class="gg" x="305" y="84"/>
</g>
<g class="lb" transform="translate(1361,1391)">
<text>VIT_19s0014g00100 <tspan>(CHI3)</tspan></text>
<text y="27.7">VIT_14s0066g00400 <tspan>(CHI2)</tspan></text>
<text y="55.4">VIT_13s0067g03820 <tspan>(CHI1)</tspan></text>
<text y="83.1">VIT_07s0151g01060 <tspan>(CHI4)</tspan></text>
</g>
</g>

<g id="hm-f3h">
<g transform="translate(985.5,1572.3) scale(1,0.989)">
<rect class="gb" x="-4.5" y="-4.5" width="108" height="177" rx="2"/><rect class="rb" x="116.5" y="-4.5" width="108" height="177" rx="2"/><rect class="pb" x="267.5" y="-4.5" width="75" height="177" rx="2"/>
<rect class="b0"/><rect class="gg" x="33"/><rect class="b0" x="66"/><rect class="nn" x="121"/><rect class="gg" x="154"/><rect class="b0" x="187"/><rect class="nn" x="272"/><rect class="gg" x="305"/>
<rect class="nn" y="28"/><rect class="p2" x="33" y="28"/><rect class="p2" x="66" y="28"/><rect class="p2" x="121" y="28"/><rect class="b0" x="154" y="28"/><rect class="b2" x="187" y="28"/><rect class="b0" x="272" y="28"/><rect class="b2" x="305" y="28"/>
<rect class="b0" y="56"/><rect class="gg" x="33" y="56"/><rect class="b2" x="66" y="56"/><rect class="b2" x="121" y="56"/><rect class="b0" x="154" y="56"/><rect class="b2" x="187" y="56"/><rect class="b0" x="272" y="56"/><rect class="b2" x="305" y="56"/>
<rect class="b2" y="84"/><rect class="p2" x="33" y="84"/><rect class="p2" x="66" y="84"/><rect class="b1" x="121" y="84"/><rect class="b0" x="154" y="84"/><rect class="b0" x="187" y="84"/><rect class="b0" x="272" y="84"/><rect class="p2" x="305" y="84"/>
<rect class="gg" y="112"/><rect class="gg" x="33" y="112"/><rect class="b0" x="66" y="112"/><rect class="nn" x="121" y="112"/><rect class="b1" x="154" y="112"/><rect class="b0" x="187" y="112"/><rect class="p1" x="272" y="112"/><rect class="b0" x="305" y="112"/>
<rect class="nn" y="140"/><rect class="b0" x="33" y="140"/><rect class="nn" x="66" y="140"/><rect class="b0" x="121" y="140"/><rect class="gg" x="154" y="140"/><rect class="b0" x="187" y="140"/><rect class="b0" x="272" y="140"/><rect class="nn" x="305" y="140"/>
<g class="a">
<text x="49.5 82.5 137.5 203.5 321.5" y="63">*****</text>
<text x="82.5 137.5 203.5 321.5" y="91">****</text>
<text x="16.5 49.5 82.5 321.5" y="119">****</text>
</g>
</g>
<g class="lb" transform="translate(1361,1595)">
<text>VIT_18s0001g14310 <tspan>(F3H5)</tspan></text>
<text y="27.7">VIT_16s0098g00860 <tspan>(F3H3)</tspan></text>
<text y="55.4">VIT_04s0023g03370 <tspan>(F3H2)</tspan></text>
<text y="83.1">VIT_02s0025g02970 <tspan>(F3H7)</tspan></text>
<text y="110.8">VIT_02s0025g02960 <tspan>(F3H9)</tspan></text>
<text y="138.5">VIT_02s0012g00410 <tspan>(F3H8)</tspan></text>
</g>
</g>

<g id="hm-f35h">
<g transform="translate(1669,1557.3) scale(1,0.982)">
<rect class="gb" x="-4.5" y="-4.5" width="108" height="261" rx="2"/><rect class="rb" x="116.5" y="-4.5" width="108" height="261" rx="2"/><rect class="pb" x="267.5" y="-4.5" width="75" height="261" rx="2"/>
<rect class="p1"/><rect class="b2" x="33"/><rect class="b2" x="66"/><rect class="p1" x="121"/><rect class="b0" x="154"/><rect class="b2" x="187"/><rect class="b0" x="272"/><rect class="b2" x="305"/>
<rect class="p2" y="28"/><rect class="r2" x="33" y="28"/><rect class="r2" x="66" y="28"/><rect class="b0" x="121" y="28"/><rect class="nn" x="154" y="28"/><rect class="gg" x="187" y="28"/><rect class="r2" x="272" y="28"/><rect class="r1" x="305" y="28"/>
<rect class="nn" y="56"/><rect class="gg" x="33" y="56"/><rect class="gg" x="66" y="56"/><rect class="b0" x="121" y="56"/><rect class="b2" x="154" y="56"/><rect class="b0" x="187" y="56"/><rect class="p1" x="272" y="56"/><rect class="b0" x="305" y="56"/>
<rect class="nn" y="84"/><rect class="nn" x="33" y="84"/><rect class="gg" x="66" y="84"/><rect class="b0" x="121" y="84"/><rect class="b0" x="154" y="84"/><rect class="b2" x="187" y="84"/><rect class="p1" x="272" y="84"/><rect class="b0" x="305" y="84"/>
<rect class="b0" y="112"/><rect class="r2" x="33" y="112"/><rect class="p2" x="66" y="112"/><rect class="b2" x="121" y="112"/><rect class="b2" x="154" y="112"/><rect class="b2" x="187" y="112"/><rect class="p2" x="272" y="112"/><rect class="r4" x="305" y="112"/>
<rect class="p2" y="140"/><rect class="r1" x="33" y="140"/><rect class="p2" x="66" y="140"/><rect class="b0" x="121" y="140"/><rect class="b2" x="154" y="140"/><rect class="gg" x="187" y="140"/><rect class="b0" x="272" y="140"/><rect class="r4" x="305" y="140"/>
<rect class="gg" y="168"/><rect class="r1" x="33" y="168"/><rect class="nn" x="66" y="168"/><rect class="b1" x="121" y="168"/><rect class="b2" x="154" y="168"/><rect class="b0" x="187" y="168"/><rect class="p1" x="272" y="168"/><rect class="r1" x="305" y="168"/>
<rect class="gg" y="196"/><rect class="r1" x="33" y="196"/><rect class="b2" x="66" y="196"/><rect class="b0" x="121" y="196"/><rect class="b2" x="154" y="196"/><rect class="b2" x="187" y="196"/><rect class="p2" x="272" y="196"/><rect class="nn" x="305" y="196"/>
<rect class="gg" y="224"/><rect class="r1" x="33" y="224"/><rect class="b0" x="66" y="224"/><rect class="b2" x="121" y="224"/><rect class="b2" x="154" y="224"/><rect class="b3" x="187" y="224"/><rect class="nn" x="272" y="224"/><rect class="r1" x="305" y="224"/>
<g class="a">
<text x="49.5 82.5 203.5 321.5" y="35">****</text>
<text x="16.5 49.5 82.5 288.5 321.5" y="63">*****</text>
<text x="170.5 288.5" y="91">**</text>
<text x="203.5 288.5" y="119">**</text>
<text x="49.5 82.5 137.5 170.5 203.5 288.5 321.5" y="147">*******</text>
<text x="16.5 49.5 82.5 170.5 321.5" y="175">*****</text>
<text x="49.5 170.5 288.5 321.5" y="203">****</text>
<text x="49.5 82.5 170.5 203.5 288.5" y="231">*****</text>
<text x="49.5 137.5 170.5 203.5 321.5" y="259">*****</text>
</g>
</g>
<g class="lb" transform="translate(2026,1579)">
<text>VIT_08s0007g05160 <tspan>(F3’5’H12)</tspan></text>
<text y="27.55">VIT_06s0009g03040 <tspan>(F3’5’H9)</tspan></text>
<text y="55.1">VIT_06s0009g03010 <tspan>(F3’5’H8)</tspan></text>
<text y="82.65">VIT_06s0009g03000 <tspan>(F3’5’H7)</tspan></text>
<text y="110.2">VIT_06s0009g02970 <tspan>(F3’5’H6)</tspan></text>
<text y="137.75">VIT_06s0009g02860 <tspan>(F3’5’H4)</tspan></text>
<text y="165.3">VIT_06s0009g02840 <tspan>(F3’5’H3)</tspan></text>
<text y="192.85">VIT_06s0009g02830 <tspan>(F3’5’H2)</tspan></text>
<text y="220.4">VIT_06s0009g02810 <tspan>(F3’5’H1)</tspan></text>
</g>
</g>

<g id="hm-dfr">
<g transform="translate(35.5,1866) scale(1,0.986)">
<rect class="gb" x="-4.5" y="-4.5" width="108" height="149" rx="2"/><rect class="rb" x="116.5" y="-4.5" width="108" height="149" rx="2"/><rect class="pb" x="267.5" y="-4.5" width="75" height="149" rx="2"/>
<rect class="gg"/><rect class="b0" x="33"/><rect class="b2" x="66"/><rect class="b0" x="121"/><rect class="gg" x="154"/><rect class="b1" x="187"/><rect class="nn" x="272"/><rect class="b0" x="305"/>
<rect class="nn" y="28"/><rect class="b0" x="33" y="28"/><rect class="b0" x="66" y="28"/><rect class="b0" x="121" y="28"/><rect class="b0" x="154" y="28"/><rect class="b0" x="187" y="28"/><rect class="gg" x="272" y="28"/><rect class="b0" x="305" y="28"/>
<rect class="nn" y="56"/><rect class="nn" x="33" y="56"/><rect class="b0" x="66" y="56"/><rect class="p1" x="121" y="56"/><rect class="gg" x="154" y="56"/><rect class="b0" x="187" y="56"/><rect class="gg" x="272" y="56"/><rect class="gg" x="305" y="56"/>
<rect class="b0" y="84"/><rect class="gg" x="33" y="84"/><rect class="b0" x="66" y="84"/><rect class="gg" x="121" y="84"/><rect class="b0" x="154" y="84"/><rect class="b0" x="187" y="84"/><rect class="b0" x="272" y="84"/><rect class="b1" x="305" y="84"/>
<rect class="b1" y="112"/><rect class="b1" x="33" y="112"/><rect class="b2" x="66" y="112"/><rect class="b0" x="121" y="112"/><rect class="b3" x="154" y="112"/><rect class="b0" x="187" y="112"/><rect class="b1" x="272" y="112"/><rect class="b3" x="305" y="112"/>
<g class="a">
<text x="321.5" y="119">*</text>
<text x="16.5 49.5 82.5 170.5 288.5 321.5" y="147">******</text>
</g>
</g>
<g class="lb" transform="translate(407,1886.5)">
<text>VIT_18s0001g12800 <tspan>(DFR1)</tspan></text>
<text y="27.5">VIT_15s0048g01010 <tspan>(DFR5)</tspan></text>
<text y="55">VIT_15s0048g01000 <tspan>(DFR4)</tspan></text>
<text y="82.5">VIT_13s0064g00290 <tspan>(DFR2)</tspan></text>
<text y="110">VIT_03s0038g04220 <tspan>(DFR3)</tspan></text>
</g>
</g>

<g id="hm-fls">
<g transform="translate(988,1828.3) scale(1,0.989)">
<rect class="gb" x="-4.5" y="-4.5" width="108" height="233" rx="2"/><rect class="rb" x="116.5" y="-4.5" width="108" height="233" rx="2"/><rect class="pb" x="267.5" y="-4.5" width="75" height="233" rx="2"/>
<rect class="b1"/><rect class="nn" x="33"/><rect class="gg" x="66"/><rect class="gg" x="121"/><rect class="nn" x="154"/><rect class="gg" x="187"/><rect class="nn" x="272"/><rect class="gg" x="305"/>
<rect class="b3" y="28"/><rect class="nn" x="33" y="28"/><rect class="b0" x="66" y="28"/><rect class="b1" x="121" y="28"/><rect class="b0" x="154" y="28"/><rect class="b0" x="187" y="28"/><rect class="nn" x="272" y="28"/><rect class="b1" x="305" y="28"/>
<rect class="b0" y="56"/><rect class="nn" x="33" y="56"/><rect class="gg" x="66" y="56"/><rect class="gg" x="121" y="56"/><rect class="nn" x="154" y="56"/><rect class="b0" x="187" y="56"/><rect class="b1" x="272" y="56"/><rect class="b1" x="305" y="56"/>
<rect class="nn" y="84"/><rect class="p2" x="33" y="84"/><rect class="r2" x="66" y="84"/><rect class="b1" x="121" y="84"/><rect class="p2" x="154" y="84"/><rect class="p2" x="187" y="84"/><rect class="gg" x="272" y="84"/><rect class="p2" x="305" y="84"/>
<rect class="gg" y="112"/><rect class="b0" x="33" y="112"/><rect class="b0" x="66" y="112"/><rect class="p1" x="121" y="112"/><rect class="b0" x="154" y="112"/><rect class="b0" x="187" y="112"/><rect class="nn" x="272" y="112"/><rect class="gg" x="305" y="112"/>
<rect class="b0" y="140"/><rect class="b0" x="33" y="140"/><rect class="gg" x="66" y="140"/><rect class="b0" x="121" y="140"/><rect class="b0" x="154" y="140"/><rect class="b0" x="187" y="140"/><rect class="b1" x="272" y="140"/><rect class="gg" x="305" y="140"/>
<rect class="b0" y="168"/><rect class="b0" x="33" y="168"/><rect class="gg" x="66" y="168"/><rect class="b0" x="121" y="168"/><rect class="b0" x="154" y="168"/><rect class="b0" x="187" y="168"/><rect class="gg" x="272" y="168"/><rect class="gg" x="305" y="168"/>
<rect class="gg" y="196"/><rect class="gg" x="33" y="196"/><rect class="b2" x="66" y="196"/><rect class="b0" x="121" y="196"/><rect class="p2" x="154" y="196"/><rect class="b0" x="187" y="196"/><rect class="gg" x="272" y="196"/><rect class="gg" x="305" y="196"/>
<g class="a">
<text x="16.5 49.5 137.5 321.5" y="63">****</text>
<text x="49.5 321.5" y="91">**</text>
<text x="16.5 49.5 82.5 137.5 170.5 203.5 321.5" y="119">*******</text>
<text x="82.5 170.5" y="231">**</text>
</g>
</g>
<g class="lb" transform="translate(1361,1850)">
<text>VIT_18s0001g03470 <tspan>(FLS1)</tspan></text>
<text y="27.6">VIT_18s0001g03430 <tspan>(FLS3)</tspan></text>
<text y="55.2">VIT_15s0021g00950 <tspan>(FLS9)</tspan></text>
<text y="82.8">VIT_13s0047g00210 <tspan>(FLS8)</tspan></text>
<text y="110.4">VIT_10s0003g02450 <tspan>(FLS7)</tspan></text>
<text y="138">VIT_07s0031g00100 <tspan>(FLS6)</tspan></text>
<text y="165.6">VIT_03s0017g00710 <tspan>(FLS5)</tspan></text>
<text y="193.2">VIT_02s0012g00400 <tspan>(FLS4)</tspan></text>
</g>
</g>

<g id="hm-ldox">
<g transform="translate(36,2102.4) scale(1,0.982)">
<rect class="gb" x="-4.5" y="-4.5" width="108" height="149" rx="2"/><rect class="rb" x="116.5" y="-4.5" width="108" height="149" rx="2"/><rect class="pb" x="267.5" y="-4.5" width="75" height="149" rx="2"/>
<rect class="b1"/><rect class="nn" x="33"/><rect class="p1" x="66"/><rect class="b3" x="121"/><rect class="b1" x="154"/><rect class="nn" x="187"/><rect class="b0" x="272"/><rect class="b1" x="305"/>
<rect class="nn" y="28"/><rect class="gg" x="33" y="28"/><rect class="gg" x="66" y="28"/><rect class="p1" x="121" y="28"/><rect class="gg" x="154" y="28"/><rect class="gg" x="187" y="28"/><rect class="nn" x="272" y="28"/><rect class="gg" x="305" y="28"/>
<rect class="b1" y="56"/><rect class="r1" x="33" y="56"/><rect class="nn" x="66" y="56"/><rect class="b2" x="121" y="56"/><rect class="gg" x="154" y="56"/><rect class="b1" x="187" y="56"/><rect class="b3" x="272" y="56"/><rect class="b2" x="305" y="56"/>
<rect class="b0" y="84"/><rect class="b0" x="33" y="84"/><rect class="b0" x="66" y="84"/><rect class="b0" x="121" y="84"/><rect class="b0" x="154" y="84"/><rect class="b0" x="187" y="84"/><rect class="gg" x="272" y="84"/><rect class="b0" x="305" y="84"/>
<rect class="b0" y="112"/><rect class="gg" x="33" y="112"/><rect class="nn" x="66" y="112"/><rect class="b0" x="121" y="112"/><rect class="b0" x="154" y="112"/><rect class="b0" x="187" y="112"/><rect class="gg" x="272" y="112"/><rect class="gg" x="305" y="112"/>
<g class="a">
<text x="16.5 137.5 170.5" y="35">***</text>
<text x="137.5" y="63">*</text>
<text x="16.5 49.5 137.5 288.5 321.5" y="91">*****</text>
</g>
</g>
<g class="lb" transform="translate(406,2125)">
<text>VIT_13s0067g01020 <tspan>(LDOX5)</tspan></text>
<text y="27.55">VIT_11s0118g00360 <tspan>(LDOX4)</tspan></text>
<text y="55.1">VIT_08s0105g00380 <tspan>(LDOX3)</tspan></text>
<text y="82.65">VIT_03s0017g00830 <tspan>(LDOX2)</tspan></text>
<text y="110.2">VIT_02s0025g04720 <tspan>(LDOX1)</tspan></text>
</g>
</g>

<g id="hm-ufgt">
<g transform="translate(36,2335.5) scale(1,0.982)">
<rect class="gb" x="-4.5" y="-4.5" width="108" height="37" rx="2"/><rect class="rb" x="116.5" y="-4.5" width="108" height="37" rx="2"/><rect class="pb" x="267.5" y="-4.5" width="75" height="37" rx="2"/>
<rect class="gg"/><rect class="gg" x="33"/><rect class="p1" x="66"/><rect class="gg" x="121"/><rect class="b0" x="154"/><rect class="b0" x="187"/><rect class="gg" x="272"/><rect class="b0" x="305"/>
<g class="a"><text x="82.5" y="35">*</text></g>
</g>
<g class="lb" transform="translate(406,2359)"><text>VIT_16s0039g02230 <tspan>(UFGT1)</tspan></text></g>
</g>

<g id="hm-omt">
<g transform="translate(34,2470.8) scale(1,0.984)">
<rect class="gb" x="-4.5" y="-4.5" width="108" height="121" rx="2"/><rect class="rb" x="116.5" y="-4.5" width="108" height="121" rx="2"/><rect class="pb" x="267.5" y="-4.5" width="75" height="121" rx="2"/>
<rect class="r4"/><rect class="p2" x="33"/><rect class="p2" x="66"/><rect class="nn" x="121"/><rect class="nn" x="154"/><rect class="nn" x="187"/><rect class="r2" x="272"/><rect class="p1" x="305"/>
<rect class="b3" y="28"/><rect class="gg" x="33" y="28"/><rect class="r3" x="66" y="28"/><rect class="b1" x="121" y="28"/><rect class="b2" x="154" y="28"/><rect class="gg" x="187" y="28"/><rect class="r1" x="272" y="28"/><rect class="p1" x="305" y="28"/>
<rect class="p2" y="56"/><rect class="r1" x="33" y="56"/><rect class="b0" x="66" y="56"/><rect class="b0" x="121" y="56"/><rect class="b0" x="154" y="56"/><rect class="b0" x="187" y="56"/><rect class="p1" x="272" y="56"/><rect class="gg" x="305" y="56"/>
<rect class="p2" y="84"/><rect class="r1" x="33" y="84"/><rect class="b0" x="66" y="84"/><rect class="b0" x="121" y="84"/><rect class="nn" x="154" y="84"/><rect class="b0" x="187" y="84"/><rect class="p1" x="272" y="84"/><rect class="b2" x="305" y="84"/>
<g class="a">
<text x="16.5 49.5 82.5 288.5 321.5" y="35">*****</text>
<text x="16.5 82.5 137.5 170.5 288.5 321.5" y="63">******</text>
<text x="16.5 49.5 288.5" y="91">***</text>
<text x="16.5 49.5 288.5 321.5" y="119">****</text>
</g>
</g>
<g class="lb" transform="translate(406,2490.5)">
<text>VIT_12s0059g01790 <tspan>(OMT1)</tspan></text>
<text y="27.6">VIT_10s0003g00480 <tspan>(OMT5)</tspan></text>
<text y="55.2">VIT_10s0003g00470 <tspan>(OMT6)</tspan></text>
<text y="82.8">VIT_01s0010g03490 <tspan>(OMT3)</tspan></text>
</g>
</g>

<g id="hm-gt">
<g transform="translate(987.7,2136) scale(1,0.968)">
<rect class="gb" x="-4.5" y="-4.5" width="108" height="93" rx="2"/><rect class="rb" x="116.5" y="-4.5" width="108" height="93" rx="2"/><rect class="pb" x="267.5" y="-4.5" width="75" height="93" rx="2"/>
<rect class="b0"/><rect class="p2" x="33"/><rect class="p2" x="66"/><rect class="p1" x="121"/><rect class="p1" x="154"/><rect class="nn" x="187"/><rect class="nn" x="272"/><rect class="p2" x="305"/>
<rect class="b0" y="28"/><rect class="nn" x="33" y="28"/><rect class="gg" x="66" y="28"/><rect class="b0" x="121" y="28"/><rect class="gg" x="154" y="28"/><rect class="b0" x="187" y="28"/><rect class="b0" x="272" y="28"/><rect class="p1" x="305" y="28"/>
<rect class="nn" y="56"/><rect class="b0" x="33" y="56"/><rect class="nn" x="66" y="56"/><rect class="r1" x="121" y="56"/><rect class="gg" x="154" y="56"/><rect class="b0" x="187" y="56"/><rect class="p2" x="272" y="56"/><rect class="gg" x="305" y="56"/>
<g class="a">
<text x="49.5 82.5 137.5 170.5 321.5" y="35">*****</text>
<text x="321.5" y="63">*</text>
<text x="137.5 288.5" y="91">**</text>
</g>
</g>
<g class="lb" transform="translate(1362,2156)">
<text>VIT_11s0052g01630 <tspan>(GT6)</tspan></text>
<text y="27.8">VIT_11s0052g01600 <tspan>(GT5)</tspan></text>
<text y="55.6">VIT_00s0218g00170 <tspan>(RhaT1)</tspan></text>
</g>
</g>

<g id="hm-lar">
<g transform="translate(1662.3,2234.3) scale(1,0.993)">
<rect class="gb" x="-4.5" y="-4.5" width="108" height="65" rx="2"/><rect class="rb" x="116.5" y="-4.5" width="108" height="65" rx="2"/><rect class="pb" x="267.5" y="-4.5" width="75" height="65" rx="2"/>
<rect class="b2"/><rect class="gg" x="33"/><rect class="gg" x="66"/><rect class="b2" x="121"/><rect class="b0" x="154"/><rect class="gg" x="187"/><rect class="gg" x="272"/><rect class="nn" x="305"/>
<rect class="gg" y="28"/><rect class="r1" x="33" y="28"/><rect class="r1" x="66" y="28"/><rect class="b3" x="121" y="28"/><rect class="b1" x="154" y="28"/><rect class="b0" x="187" y="28"/><rect class="b0" x="272" y="28"/><rect class="p2" x="305" y="28"/>
<g class="a">
<text x="16.5 137.5" y="35">**</text>
<text x="49.5 82.5 137.5 321.5" y="63">****</text>
</g>
</g>
<g class="lb" transform="translate(2041,2255.5)">
<text>VIT_17s0000g04150 <tspan>(LAR2)</tspan></text>
<text y="27.5">VIT_01s0011g02960 <tspan>(LAR1)</tspan></text>
</g>
</g>

<g id="hm-anr">
<g transform="translate(1527.8,2460)">
<rect class="gb" x="-4.5" y="-4.5" width="108" height="37" rx="2"/><rect class="rb" x="116.5" y="-4.5" width="108" height="37" rx="2"/><rect class="pb" x="267.5" y="-4.5" width="75" height="37" rx="2"/>
<rect class="b2"/><rect class="gg" x="33"/><rect class="b2" x="66"/><rect class="b3" x="121"/><rect class="gg" x="154"/><rect class="b2" x="187"/><rect class="b0" x="272"/><rect class="b2" x="305"/>
<g class="a"><text x="16.5 82.5 137.5 203.5 321.5" y="35">*****</text></g>
</g>
<g class="lb" transform="translate(1886,2480)"><text>VIT_00s0361g00040 <tspan>(ANR1)</tspan></text></g>
</g>

<g id="hm-gst">
<g transform="translate(984.5,2661) scale(1,0.989)">
<rect class="gb" x="-4.5" y="-4.5" width="108" height="205" rx="2"/><rect class="rb" x="116.5" y="-4.5" width="108" height="205" rx="2"/><rect class="pb" x="267.5" y="-4.5" width="75" height="205" rx="2"/>
<rect class="r3"/><rect class="r2" x="33"/><rect class="r4" x="66"/><rect class="b0" x="121"/><rect class="nn" x="154"/><rect class="p2" x="187"/><rect class="nn" x="272"/><rect class="r4" x="305"/>
<rect class="b1" y="28"/><rect class="nn" x="33" y="28"/><rect class="gg" x="66" y="28"/><rect class="b2" x="121" y="28"/><rect class="gg" x="154" y="28"/><rect class="b0" x="187" y="28"/><rect class="b0" x="272" y="28"/><rect class="gg" x="305" y="28"/>
<rect class="b0" y="56"/><rect class="gg" x="33" y="56"/><rect class="nn" x="66" y="56"/><rect class="b0" x="121" y="56"/><rect class="b0" x="154" y="56"/><rect class="gg" x="187" y="56"/><rect class="gg" x="272" y="56"/><rect class="nn" x="305" y="56"/>
<rect class="p1" y="84"/><rect class="nn" x="33" y="84"/><rect class="nn" x="66" y="84"/><rect class="b0" x="121" y="84"/><rect class="b1" x="154" y="84"/><rect class="b0" x="187" y="84"/><rect class="gg" x="272" y="84"/><rect class="b0" x="305" y="84"/>
<rect class="b1" y="112"/><rect class="r1" x="33" y="112"/><rect class="r2" x="66" y="112"/><rect class="b2" x="121" y="112"/><rect class="b0" x="154" y="112"/><rect class="b0" x="187" y="112"/><rect class="b2" x="272" y="112"/><rect class="b0" x="305" y="112"/>
<rect class="b3" y="140"/><rect class="b1" x="33" y="140"/><rect class="nn" x="66" y="140"/><rect class="b2" x="121" y="140"/><rect class="b2" x="154" y="140"/><rect class="gg" x="187" y="140"/><rect class="r1" x="272" y="140"/><rect class="p2" x="305" y="140"/>
<rect class="gg" y="168"/><rect class="nn" x="33" y="168"/><rect class="nn" x="66" y="168"/><rect class="nn" x="121" y="168"/><rect class="b1" x="154" y="168"/><rect class="b0" x="187" y="168"/><rect class="nn" x="272" y="168"/><rect class="gg" x="305" y="168"/>
<g class="a">
<text x="16.5 49.5 82.5 203.5 321.5" y="35">*****</text>
<text x="16.5 137.5" y="63">**</text>
<text x="16.5" y="119">*</text>
<text x="16.5 49.5 82.5 137.5 288.5" y="147">*****</text>
<text x="16.5 49.5 137.5 170.5 288.5 321.5" y="175">******</text>
</g>
</g>
<g class="lb" transform="translate(1364,2681.5)">
<text>VIT_19s0093g00320 <tspan>(GST1)</tspan></text>
<text y="27.6">VIT_16s0050g02480 <tspan>(ABCC1)</tspan></text>
<text y="55.2">VIT_16s0050g00930 <tspan>(AM)</tspan></text>
<text y="82.8">VIT_16s0050g00910 <tspan>(AM)</tspan></text>
<text y="110.4">VIT_16s0050g00900 <tspan>(AM)</tspan></text>
<text y="138">VIT_12s0028g00920 <tspan>(GST3)</tspan></text>
<text y="165.6">VIT_04s0079g00690 <tspan>(GST4)</tspan></text>
</g>
</g>
</svg>
